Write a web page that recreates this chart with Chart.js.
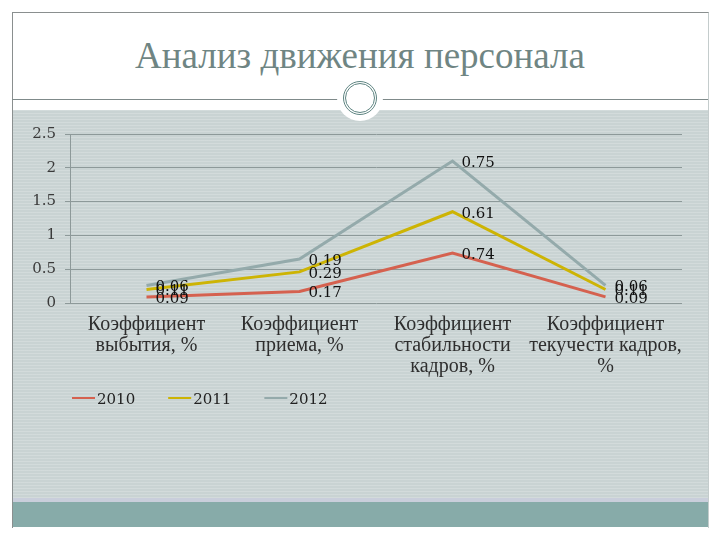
<!DOCTYPE html>
<html>
<head>
<meta charset="utf-8">
<script src="https://cdn.jsdelivr.net/npm/chart.js@4.4.1/dist/chart.umd.min.js"></script>
<style>
  body { margin: 0; background: #ffffff; }
  #slide { position: absolute; left: 0; top: 0; width: 720px; height: 540px; overflow: hidden; background: #fff; }
  #frame { position: absolute; left: 12px; top: 12px; width: 695px; height: 515px; border-left: 1px solid #8a8f8f; border-top: 1px solid #8a8f8f; border-right: 1px solid #c4cccc; }
  #title { position: absolute; left: 0; top: 34px; width: 720px; text-align: center; font-family: "Liberation Serif", serif; font-size: 37px; color: #6f8583; }
  #sep { position: absolute; left: 12px; top: 99px; width: 696px; height: 1px; background: #7f8a8a; }
  #grey { position: absolute; left: 13px; top: 110px; width: 695px; height: 388px;
    background-color: #c9d3d3;
    background-image: repeating-linear-gradient(0deg, rgba(255,255,255,0.18) 0px, rgba(255,255,255,0.18) 1px, rgba(0,0,0,0) 1px, rgba(0,0,0,0) 3px); }
  #lav { position: absolute; left: 13px; top: 498px; width: 695px; height: 4px; background: #c9cedb; }
  #teal { position: absolute; left: 13px; top: 502px; width: 695px; height: 25px; background: #87aba9; }
  #disc { position: absolute; left: 337px; top: 75px; width: 46px; height: 46px; border-radius: 50%; background: #fff; }
  #ring { position: absolute; left: 343px; top: 81px; width: 28px; height: 28px; border-radius: 50%; border: 3px double #5f8582; }
  #wrap { position: absolute; left: 12px; top: 110px; width: 696px; height: 392px; }
</style>
</head>
<body>
<div id="slide">
  <div id="frame"></div>
  <div id="title">Анализ движения персонала</div>
  <div id="grey"></div>
  <div id="lav"></div>
  <div id="teal"></div>
  <div id="sep"></div>
  <div id="disc"></div>
  <div id="ring"></div>
  <div id="wrap"><canvas id="grafico"></canvas></div>
</div>
<script>
// Категории (подписи оси X)
var categorias = [
  ["Коэффициент", "выбытия, %"],
  ["Коэффициент", "приема, %"],
  ["Коэффициент", "стабильности", "кадров, %"],
  ["Коэффициент", "текучести кадров,", "%"]
];

// Значения по годам (график с накоплением)
var serie2010 = [0.09, 0.17, 0.74, 0.09];
var serie2011 = [0.11, 0.29, 0.61, 0.11];
var serie2012 = [0.06, 0.19, 0.75, 0.06];

var anios = ["2010", "2011", "2012"];
var colores = ["#d5614f", "#cdb404", "#94aaab"];

// Подписи значений справа от точек
var etiquetasValores = {
  id: "etiquetasValores",
  afterDatasetsDraw: function (chart) {
    var ctx = chart.ctx;
    ctx.save();
    ctx.font = "15px 'DejaVu Serif'";
    ctx.fillStyle = "#111";
    ctx.textBaseline = "middle";
    ctx.textAlign = "left";
    chart.data.datasets.forEach(function (ds, i) {
      var meta = chart.getDatasetMeta(i);
      meta.data.forEach(function (pt, j) {
        ctx.fillText(ds.data[j].toFixed(2), pt.x + 9, pt.y + 2);
      });
    });
    ctx.restore();
  }
};

// Легенда внизу слева
var leyenda = {
  id: "leyenda",
  afterDraw: function (chart) {
    var ctx = chart.ctx;
    ctx.save();
    ctx.font = "15px 'DejaVu Serif'";
    ctx.textBaseline = "middle";
    var x = 60;
    var y = 290;
    chart.data.datasets.forEach(function (ds) {
      ctx.strokeStyle = ds.borderColor;
      ctx.lineWidth = 2;
      ctx.beginPath();
      ctx.moveTo(x, y - 2);
      ctx.lineTo(x + 23, y - 2);
      ctx.stroke();
      ctx.fillStyle = "#222";
      ctx.fillText(ds.label, x + 25, y);
      x += 25 + ctx.measureText(ds.label).width + 33;
    });
    ctx.restore();
  }
};

var ctx = document.getElementById("grafico").getContext("2d");
new Chart(ctx, {
  type: "line",
  data: {
    labels: categorias,
    datasets: [
      { label: anios[0], data: serie2010, borderColor: colores[0], backgroundColor: colores[0] },
      { label: anios[1], data: serie2011, borderColor: colores[1], backgroundColor: colores[1] },
      { label: anios[2], data: serie2012, borderColor: colores[2], backgroundColor: colores[2] }
    ]
  },
  options: {
    responsive: true,
    maintainAspectRatio: false,
    animation: false,
    layout: { padding: { top: 24, right: 26, left: 0, bottom: 0 } },
    elements: {
      line: { borderWidth: 3, tension: 0, fill: false },
      point: { radius: 0, hoverRadius: 0 }
    },
    plugins: {
      legend: { display: false },
      tooltip: { enabled: false }
    },
    scales: {
      x: {
        offset: true,
        grid: { display: false, drawTicks: false },
        border: { display: false },
        ticks: {
          padding: 11,
          maxRotation: 0,
          autoSkip: false,
          color: "#2e2e2e",
          font: { family: "Liberation Serif", size: 20, lineHeight: 1.05 }
        },
        afterFit: function (scale) { scale.height = 199; }
      },
      y: {
        stacked: true,
        min: 0,
        max: 2.5,
        ticks: {
          stepSize: 0.5,
          padding: 9,
          color: "#3a3a3a",
          font: { family: "DejaVu Serif", size: 15 },
          callback: function (v) { return String(v); }
        },
        grid: { color: "#8d9999", tickLength: 5 },
        border: { display: true, color: "#8d9999" },
        afterFit: function (scale) { scale.width = 58; }
      }
    }
  },
  plugins: [etiquetasValores, leyenda]
});
</script>
</body>
</html>
